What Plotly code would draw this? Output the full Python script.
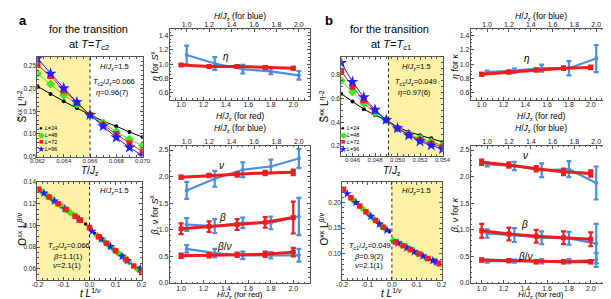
import plotly.graph_objects as go

W, H = 611, 299
FONT = "Liberation Sans, Arial, sans-serif"

# ---------------- data ----------------
# panel a, top-left
T_a = [0.062, 0.063, 0.064, 0.065, 0.066, 0.067, 0.068, 0.069, 0.070]
Sa_L24 = [0.205, 0.188, 0.172, 0.157, 0.142, 0.128, 0.117, 0.104, 0.093]
Sa_L48 = [0.233, 0.210, 0.186, 0.166, 0.142, 0.124, 0.105, 0.088, 0.074]
Sa_L72 = [0.252, 0.228, 0.196, 0.168, 0.142, 0.120, 0.099, 0.079, 0.061]
Sa_L96 = [0.267, 0.233, 0.201, 0.170, 0.142, 0.117, 0.092, 0.070, 0.052]
Tc_line_a = 0.066

# panel b, top-left
T_b = [0.045, 0.046, 0.047, 0.048, 0.049, 0.050, 0.051, 0.052, 0.053, 0.054]
Sb_L24 = [0.640, 0.575, 0.510, 0.460, 0.420, 0.360, 0.320, 0.290, 0.265, 0.235]
Sb_L48 = [0.750, 0.655, 0.560, 0.480, 0.420, 0.350, 0.300, 0.265, 0.235, 0.205]
Sb_L72 = [0.830, 0.700, 0.585, 0.495, 0.420, 0.350, 0.295, 0.250, 0.220, 0.190]
Sb_L96 = [0.900, 0.740, 0.610, 0.505, 0.420, 0.350, 0.290, 0.240, 0.205, 0.175]
Tc_line_b = 0.0492

# panel a, bottom-left (scaling collapse)
Oa_L24_x = [-0.16, -0.115, -0.07, -0.035, -0.015, 0.02, 0.05, 0.085, 0.12, 0.155, 0.19]
Oa_L24_y = [0.1270, 0.1190, 0.1110, 0.1047, 0.1012, 0.0925, 0.0865, 0.0795, 0.0725, 0.0655, 0.0610]
Oa_L48_x = [-0.185, -0.165, -0.145, -0.13, -0.11, -0.09, -0.075, -0.06, -0.045, 0.03, 0.045, 0.06, 0.075, 0.09, 0.11, 0.13, 0.15, 0.185]
Oa_L48_y = [0.1314, 0.1279, 0.1243, 0.1216, 0.1181, 0.1145, 0.1119, 0.1092, 0.1065, 0.0905, 0.0875, 0.0845, 0.0815, 0.0785, 0.0745, 0.0705, 0.0665, 0.0595]
Oa_L72_x = [-0.195, -0.155, -0.12, -0.09, -0.055, -0.035, 0.0, 0.035, 0.065, 0.1, 0.14, 0.17, 0.2]
Oa_L72_y = [0.1332, 0.1261, 0.1199, 0.1145, 0.1083, 0.1047, 0.0980, 0.0895, 0.0835, 0.0765, 0.0685, 0.0625, 0.0565]
Oa_L96_x = [-0.175, -0.135, -0.095, -0.04, 0.01, 0.045, 0.08, 0.125, 0.145, 0.195]
Oa_L96_y = [0.1297, 0.1225, 0.1154, 0.1056, 0.0945, 0.0875, 0.0805, 0.0715, 0.0675, 0.0600]

# panel b, bottom-left (scaling collapse)
Ob_L24_x = [-0.14, -0.06, -0.01, 0.03, 0.085, 0.15]
Ob_L24_y = [0.198, 0.162, 0.143, 0.120, 0.106, 0.090]
Ob_L48_x = [-0.155, -0.12, -0.095, -0.075, -0.045, -0.03, 0.005, 0.035, 0.065, 0.1, 0.135, 0.17]
Ob_L48_y = [0.204, 0.189, 0.178, 0.169, 0.156, 0.150, 0.126, 0.119, 0.111, 0.102, 0.093, 0.086]
Ob_L72_x = [-0.195, -0.165, -0.13, -0.105, -0.065, -0.035, 0.015, 0.045, 0.075, 0.11, 0.145, 0.19]
Ob_L72_y = [0.226, 0.209, 0.193, 0.182, 0.165, 0.152, 0.123, 0.116, 0.108, 0.100, 0.091, 0.081]
Ob_L96_x = [-0.18, -0.145, -0.085, -0.05, -0.02, 0.025, 0.06, 0.09, 0.125, 0.165, 0.18]
Ob_L96_y = [0.217, 0.200, 0.173, 0.158, 0.146, 0.121, 0.112, 0.104, 0.096, 0.087, 0.084]

legend_labels = ["L=24", "L=48", "L=72", "L=96"]

# right panels
H_red = [1.0, 1.25, 1.5, 1.75, 2.0]
H_blue = [1.0, 1.25, 1.5, 1.75, 2.0]

eta_a_red = [0.99, 0.97, 0.97, 0.955, 0.945]
eta_a_red_err = [0.012, 0.015, 0.015, 0.018, 0.02]
eta_a_blue = [1.13, 1.01, 0.93, 0.90, 0.845]
eta_a_blue_err = [0.13, 0.09, 0.06, 0.04, 0.06]
nu_a_red = [1.99, 2.02, 2.04, 2.07, 2.08]
nu_a_red_err = [0.03, 0.03, 0.04, 0.04, 0.05]
nu_a_blue = [1.74, 1.96, 2.13, 2.19, 2.34]
nu_a_blue_err = [0.16, 0.15, 0.14, 0.13, 0.18]
beta_a_red = [1.02, 1.06, 1.10, 1.14, 1.23]
beta_a_red_err = [0.10, 0.10, 0.10, 0.10, 0.30]
beta_a_blue = [1.10, 1.07, 1.13, 1.13, 1.25]
beta_a_blue_err = [0.12, 0.13, 0.10, 0.12, 0.35]
bn_a_red = [0.51, 0.52, 0.53, 0.54, 0.58]
bn_a_red_err = [0.04, 0.04, 0.04, 0.05, 0.08]
bn_a_blue = [0.64, 0.56, 0.52, 0.52, 0.52]
bn_a_blue_err = [0.07, 0.08, 0.07, 0.06, 0.12]

eta_b_red = [0.86, 0.89, 0.92, 0.945, 0.955]
eta_b_red_err = [0.02, 0.02, 0.02, 0.025, 0.025]
eta_b_blue = [0.89, 0.91, 0.945, 0.945, 1.08]
eta_b_blue_err = [0.02, 0.03, 0.05, 0.10, 0.19]
nu_b_red = [2.27, 2.22, 2.15, 2.09, 2.06]
nu_b_red_err = [0.05, 0.05, 0.05, 0.06, 0.06]
nu_b_blue = [2.23, 2.20, 2.12, 2.14, 1.88]
nu_b_blue_err = [0.04, 0.08, 0.13, 0.15, 0.31]
beta_b_red = [0.98, 0.92, 0.88, 0.85, 0.82]
beta_b_red_err = [0.13, 0.12, 0.12, 0.12, 0.13]
beta_b_blue = [0.93, 0.90, 0.85, 0.84, 0.74]
beta_b_blue_err = [0.08, 0.13, 0.12, 0.12, 0.37]
bn_b_red = [0.43, 0.42, 0.40, 0.40, 0.40]
bn_b_red_err = [0.03, 0.03, 0.03, 0.03, 0.03]
bn_b_blue = [0.41, 0.41, 0.41, 0.41, 0.43]
bn_b_blue_err = [0.03, 0.03, 0.04, 0.04, 0.13]

# ---------------- styling ----------------
RED = "#ee1c1c"
BLUE = "#4a8fe0"
LCOL = {"L24": "#000000", "L48": "#44e61a", "L72": "#ff1a1a", "L96": "#2020ff"}
LSYM = {"L24": ("circle", 4), "L48": ("diamond", 7), "L72": ("square", 6), "L96": ("star", 9)}
LSYM_BL = {"L24": ("circle", 3.5), "L48": ("diamond", 6), "L72": ("square", 5.5), "L96": ("star", 7)}
YEL = "#fdf1a6"
AXC = "#555555"


def xp(p):
    return p / W


def yp(p):
    return 1 - p / H


def dx(a, b):
    return [xp(a), xp(b)]


def dy(top, bottom):
    return [yp(bottom), yp(top)]


def axis(fs=6.5, so=-1, **kw):
    d = dict(showline=True, linecolor=AXC, linewidth=1, ticks="inside", ticklen=3,
             tickwidth=1, tickcolor=AXC, showgrid=False, zeroline=False,
             tickfont=dict(size=fs, color="#222", family=FONT), tickmode="array",
             ticklabelstandoff=so)
    d.update(kw)
    return d


def minor(dt, t0):
    return dict(ticks="inside", ticklen=1.6, tickcolor=AXC, dtick=dt, tick0=t0, showgrid=False)


fig = go.Figure()

# ---- top-left panels ----
for xs, series, xa, ya in [
    (T_a, {"L24": Sa_L24, "L48": Sa_L48, "L72": Sa_L72, "L96": Sa_L96}, "x", "y"),
    (T_b, {"L24": Sb_L24, "L48": Sb_L48, "L72": Sb_L72, "L96": Sb_L96}, "x7", "y5"),
]:
    for k, ys in series.items():
        sym, sz = LSYM[k]
        fig.add_trace(go.Scatter(x=xs, y=ys, mode="lines+markers", xaxis=xa, yaxis=ya,
                                 line=dict(color=LCOL[k], width=1),
                                 marker=dict(symbol=sym, size=sz, color=LCOL[k], line=dict(width=0)),
                                 showlegend=False, cliponaxis=True))

# ---- bottom-left panels ----
for series, xa, ya in [
    ({"L24": (Oa_L24_x, Oa_L24_y), "L48": (Oa_L48_x, Oa_L48_y), "L72": (Oa_L72_x, Oa_L72_y),
      "L96": (Oa_L96_x, Oa_L96_y)}, "x2", "y2"),
    ({"L24": (Ob_L24_x, Ob_L24_y), "L48": (Ob_L48_x, Ob_L48_y), "L72": (Ob_L72_x, Ob_L72_y),
      "L96": (Ob_L96_x, Ob_L96_y)}, "x8", "y6"),
]:
    for k in ["L24", "L48", "L96", "L72"]:
        xs, ys = series[k]
        sym, sz = LSYM_BL[k]
        fig.add_trace(go.Scatter(x=xs, y=ys, mode="markers", xaxis=xa, yaxis=ya,
                                 marker=dict(symbol=sym, size=sz, color=LCOL[k], line=dict(width=0)),
                                 showlegend=False))


# ---- right panels ----
def add_pair(red, red_err, blue, blue_err, xb, xr, ya):
    fig.add_trace(go.Scatter(x=H_blue, y=blue, mode="lines+markers", xaxis=xb, yaxis=ya,
                             line=dict(color=BLUE, width=2.2),
                             marker=dict(symbol="circle", size=4, color=BLUE),
                             error_y=dict(type="data", array=blue_err, color=BLUE, thickness=2.2, width=2.5),
                             showlegend=False))
    fig.add_trace(go.Scatter(x=H_red, y=red, mode="lines+markers", xaxis=xr, yaxis=ya,
                             line=dict(color=RED, width=3),
                             marker=dict(symbol="square", size=5, color=RED),
                             error_y=dict(type="data", array=red_err, color=RED, thickness=2.2, width=2.5),
                             showlegend=False))


add_pair(eta_a_red, eta_a_red_err, eta_a_blue, eta_a_blue_err, "x3", "x4", "y3")
for r, re, b, be in [(nu_a_red, nu_a_red_err, nu_a_blue, nu_a_blue_err),
                     (beta_a_red, beta_a_red_err, beta_a_blue, beta_a_blue_err),
                     (bn_a_red, bn_a_red_err, bn_a_blue, bn_a_blue_err)]:
    add_pair(r, re, b, be, "x5", "x6", "y4")
add_pair(eta_b_red, eta_b_red_err, eta_b_blue, eta_b_blue_err, "x9", "x10", "y7")
for r, re, b, be in [(nu_b_red, nu_b_red_err, nu_b_blue, nu_b_blue_err),
                     (beta_b_red, beta_b_red_err, beta_b_blue, beta_b_blue_err),
                     (bn_b_red, bn_b_red_err, bn_b_blue, bn_b_blue_err)]:
    add_pair(r, re, b, be, "x11", "x12", "y8")

# ---- axes ----
H_ticks = [1.0, 1.2, 1.4, 1.6, 1.8, 2.0]
H_tt = ["1.0", "1.2", "1.4", "1.6", "1.8", "2.0"]
red_rng = [0.9, 2.15]
blue_rng = [0.85, 2.10]
eta_ticks = [0.6, 0.8, 1.0, 1.2, 1.4]
eta_tt = ["0.6", "0.8", "1.0", "1.2", "1.4"]
bn_ticks = [0.0, 0.5, 1.0, 1.5, 2.0, 2.5]
bn_tt = ["0.0", "0.5", "1.0", "1.5", "2.0", "2.5"]

lay = {}
# a TL
lay["xaxis"] = axis(fs=6, so=-2, domain=dx(22, 130), range=[0.062, 0.070], anchor="y", mirror="ticks",
                    tickvals=[0.062, 0.064, 0.066, 0.068, 0.070],
                    ticktext=["0.062", "0.064", "0.066", "0.068", "0.070"], minor=minor(0.0005, 0.062))
lay["yaxis"] = axis(domain=dy(46, 148), range=[0.05, 0.27], anchor="x", mirror="ticks",
                    tickvals=[0.05, 0.10, 0.15, 0.20, 0.25],
                    ticktext=["0.05", "0.10", "0.15", "0.20", "0.25"], minor=minor(0.01, 0.05))
# a BL
lay["xaxis2"] = axis(fs=7, so=-2, domain=dx(22, 129), range=[-0.2, 0.2], anchor="y2", mirror="ticks",
                     tickvals=[-0.2, -0.1, 0.0, 0.1, 0.2], ticktext=["-0.2", "-0.1", "0.0", "0.1", "0.2"],
                     minor=minor(0.02, -0.2))
lay["yaxis2"] = axis(domain=dy(174, 274), range=[0.05, 0.14], anchor="x2", mirror="ticks",
                     tickvals=[0.06, 0.08, 0.10, 0.12, 0.14], ticktext=["0.06", "0.08", "0.10", "0.12", "0.14"],
                     minor=minor(0.005, 0.05))
# b TL
lay["xaxis7"] = axis(fs=6, so=-2, domain=dx(334, 438), range=[0.045, 0.054], anchor="y5", mirror="ticks",
                     tickvals=[0.046, 0.048, 0.050, 0.052, 0.054],
                     ticktext=["0.046", "0.048", "0.050", "0.052", "0.054"], minor=minor(0.0005, 0.045))
lay["yaxis5"] = axis(domain=dy(46, 147), range=[0.12, 0.95], anchor="x7", mirror="ticks",
                     tickvals=[0.2, 0.4, 0.6, 0.8], ticktext=["0.2", "0.4", "0.6", "0.8"],
                     minor=minor(0.05, 0.0))
# b BL
lay["xaxis8"] = axis(fs=7, so=-2, domain=dx(335, 437), range=[-0.2, 0.2], anchor="y6", mirror="ticks",
                     tickvals=[-0.2, -0.1, 0.0, 0.1, 0.2], ticktext=["-0.2", "-0.1", "0.0", "0.1", "0.2"],
                     minor=minor(0.02, -0.2))
lay["yaxis6"] = axis(domain=dy(174, 274), range=[0.05, 0.24], anchor="x8", mirror="ticks",
                     tickvals=[0.10, 0.15, 0.20], ticktext=["0.10", "0.15", "0.20"],
                     minor=minor(0.01, 0.05))


def right_axes(xb, xr, ya, xdom, ydom, yr, yt, ytt, ymin):
    lay["xaxis" + xb[1:]] = axis(fs=7, so=-2, domain=xdom, range=blue_rng, anchor=ya, side="top",
                                 tickvals=H_ticks, ticktext=H_tt, minor=minor(0.05, 0.85))
    lay["xaxis" + xr[1:]] = axis(fs=7, so=-2, range=red_rng, anchor=ya, side="bottom", overlaying=xb,
                                 tickvals=H_ticks, ticktext=H_tt, minor=minor(0.05, 0.9))
    lay["yaxis" + ya[1:]] = axis(fs=7, domain=ydom, range=yr, anchor=xb, mirror="ticks",
                                 tickvals=yt, ticktext=ytt, minor=ymin)


right_axes("x3", "x4", "y3", dx(158, 302), dy(17, 90), [0.5, 1.5], eta_ticks, eta_tt, minor(0.05, 0.5))
right_axes("x5", "x6", "y4", dx(158, 302), dy(137, 278), [-0.01, 2.58], bn_ticks, bn_tt, minor(0.1, 0.0))
right_axes("x9", "x10", "y7", dx(467, 607), dy(17, 90), [0.5, 1.5], eta_ticks, eta_tt, minor(0.05, 0.5))
right_axes("x11", "x12", "y8", dx(467, 607), dy(137, 278), [-0.01, 2.58], bn_ticks, bn_tt, minor(0.1, 0.0))

# ---- shapes: shaded regions and dotted Tc lines ----
shapes = [
    dict(type="rect", xref="x", yref="y domain", x0=T_a[0], x1=Tc_line_a, y0=0, y1=1,
         fillcolor=YEL, line=dict(width=0), layer="below"),
    dict(type="line", xref="x", yref="y domain", x0=Tc_line_a, x1=Tc_line_a, y0=0, y1=1,
         line=dict(color="#222", width=1, dash="dot")),
    dict(type="rect", xref="x7", yref="y5 domain", x0=Tc_line_b, x1=T_b[-1], y0=0, y1=1,
         fillcolor=YEL, line=dict(width=0), layer="below"),
    dict(type="line", xref="x7", yref="y5 domain", x0=Tc_line_b, x1=Tc_line_b, y0=0, y1=1,
         line=dict(color="#222", width=1, dash="dot")),
    dict(type="rect", xref="x2", yref="y2 domain", x0=-0.2, x1=0.0, y0=0, y1=1,
         fillcolor=YEL, line=dict(width=0), layer="below"),
    dict(type="line", xref="x2", yref="y2 domain", x0=0.0, x1=0.0, y0=0, y1=1,
         line=dict(color="#222", width=1, dash="dot")),
    dict(type="rect", xref="x8", yref="y6 domain", x0=0.0, x1=0.2, y0=0, y1=1,
         fillcolor=YEL, line=dict(width=0), layer="below"),
    dict(type="line", xref="x8", yref="y6 domain", x0=0.0, x1=0.0, y0=0, y1=1,
         line=dict(color="#222", width=1, dash="dot")),
]

# ---- annotations ----
anns = []


def ann(text, x, y, size=8, angle=0, xanchor="center", yanchor="middle", color="#000"):
    anns.append(dict(text=text, x=xp(x), y=yp(y), xref="paper", yref="paper", showarrow=False,
                     xanchor=xanchor, yanchor=yanchor, textangle=angle, borderpad=0,
                     font=dict(size=size, color=color, family=FONT)))


HJ = "<i>H</i>/<i>J</i><sub>z</sub>"

for off, sub, tcval, eta_txt, beta_txt, lab, kappa in [
    (0, "c2", "0.066", "0.96(7)", "1.1(1)", "a", "xx"),
    (310, "c1", "0.049", "0.97(6)", "0.9(2)", "b", "κκ"),
]:
    ann("<b>%s</b>" % lab, 2 + off + (4 if lab == "b" else 0), 9, size=13, xanchor="left")
    ann("for the transition", 74 + off, 17, size=11)
    ann("at <i>T</i>=<i>T</i><sub>%s</sub>" % sub, 75 + off, 34, size=11)
    # top-left inner text
    ann(HJ + "=1.5", 101 + off, 56, size=7.5)
    ann("<i>T</i><sub>%s</sub>/<i>J</i><sub>z</sub>=%s" % (sub, tcval), 101 + off, 72, size=7.5)
    ann("<i>η</i>=%s" % eta_txt, 99 + off, 82, size=7.5)
    # bottom-left inner text
    ann(HJ + "=1.5", 101 + off, 183, size=7.5)
    ann("<i>T</i><sub>%s</sub>/<i>J</i><sub>z</sub>=%s" % (sub, tcval), 54 + off, 240, size=7.5)
    ann("<i>β</i>=%s" % beta_txt, 53 + off, 250, size=7.5)
    ann("<i>ν</i>=2.1(1)", 52 + off, 259.5, size=7.5)
    # left axis titles
    ann("<i>T</i>/<i>J</i><sub>z</sub>", 76 + off, 163, size=10)
    ann("<i>t L</i><sup>1/<i>ν</i></sup>", 76 + off, 288, size=10)
    ann("S̃<sup>%s</sup> L<sup><i>η</i>-2</sup>" % kappa, 6 + off, 97, size=10, angle=-90)
    ann("O<sup>%s</sup> L<sup><i>β</i>/<i>ν</i></sup>" % kappa, 6 + off, 222, size=10, angle=-90)
    # legend
    leg_marks = [("●", LCOL["L24"], 6), ("◆", LCOL["L48"], 8.5), ("■", LCOL["L72"], 7.5), ("★", LCOL["L96"], 9)]
    for i, (lbl, (g, c, gs)) in enumerate(zip(legend_labels, leg_marks)):
        yy = 118.5 + 7.2 * i
        ann(g, 26 + off, yy, size=gs, color=c)
        ann("<i>L</i>" + lbl[1:], 29 + off, yy, size=5.5, xanchor="left")

for off, yl in [(0, "<i>S</i><sup>x</sup>"), (309, "<i>κ</i>")]:
    cx = 230 + off
    ann(HJ + " (for blue)", cx, 4.5, size=8.5)
    ann(HJ + " (for red)", cx, 106.5, size=8.5)
    ann(HJ + " (for blue)", cx, 119.5, size=8.5)
    ann(HJ + " (for red)", cx, 290, size=8)
    ann("<i>η</i> for " + yl, 142 + off, 55, size=9, angle=-90)
    ann("<i>β</i>, <i>ν</i> for " + yl, 142 + off, 208, size=9, angle=-90)

# greek labels in right panels
ann("<i>η</i>", 216, 46, size=10)
ann("<i>ν</i>", 211, 157, size=10)
ann("<i>β</i>", 212, 210, size=10)
ann("<i>β</i>/<i>ν</i>", 214, 240, size=10)
ann("<i>η</i>", 525, 48, size=10)
ann("<i>ν</i>", 523, 147, size=10)
ann("<i>β</i>", 522, 218, size=10)
ann("<i>β</i>/<i>ν</i>", 523, 250, size=10)

fig.update_layout(width=W, height=H, margin=dict(l=0, r=0, t=0, b=0),
                  paper_bgcolor="white", plot_bgcolor="white", showlegend=False,
                  font=dict(family=FONT), shapes=shapes, annotations=anns, **lay)

fig.write_html("out.html")
